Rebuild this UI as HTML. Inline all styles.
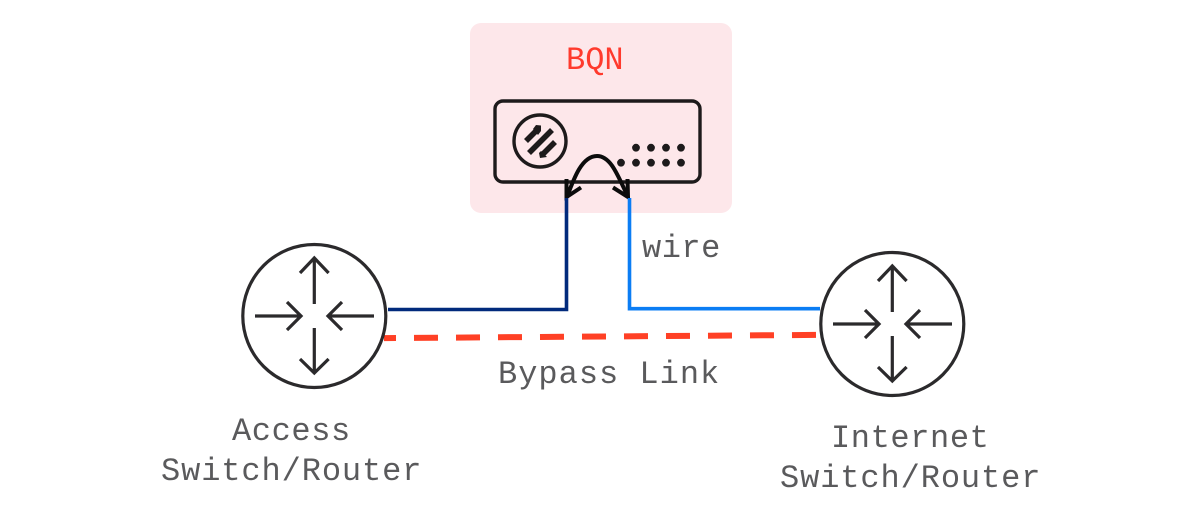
<!DOCTYPE html>
<html>
<head>
<meta charset="utf-8">
<style>
html,body{margin:0;padding:0;background:#fff;width:1200px;height:515px;overflow:hidden}
svg{display:block}
text{font-family:"Liberation Mono",monospace;font-size:32px;fill:#5a5a5c}
</style>
</head>
<body>
<svg width="1200" height="515" viewBox="0 0 1200 515" xmlns="http://www.w3.org/2000/svg">
<rect width="1200" height="515" fill="#fff"/>
<rect x="470" y="23" width="262" height="190" rx="11" fill="#fde7ea"/>
<text x="566" y="69" style="fill:#ff3a2d">BQN</text>

<rect x="495" y="101" width="205" height="81" rx="8" fill="none" stroke="#1d1a1b" stroke-width="3.4"/>
<circle cx="540" cy="141" r="26" fill="none" stroke="#1d1a1b" stroke-width="3.4"/>
<g stroke="#1d1a1b" stroke-width="5.600" fill="none">
<line x1="526" y1="141" x2="537" y2="130"/>
<line x1="529" y1="153" x2="552" y2="130"/>
<line x1="543" y1="154" x2="555" y2="142"/>
</g>
<g fill="#1d1a1b">
<polygon points="533,129 536,125 541,125.500 541,131 538,135"/>
<polygon points="541,151 547,157 540,158 539,153"/>
</g>
<g fill="#1d1a1b">
<circle cx="636" cy="147.700" r="3.900"/><circle cx="651" cy="147.700" r="3.900"/><circle cx="666" cy="147.700" r="3.900"/><circle cx="681" cy="147.700" r="3.900"/>
<circle cx="621" cy="162.700" r="3.900"/><circle cx="636" cy="162.700" r="3.900"/><circle cx="651" cy="162.700" r="3.900"/><circle cx="666" cy="162.700" r="3.900"/><circle cx="681" cy="162.700" r="3.900"/>
</g>

<path d="M567 197 C574 178 582 156 597 156 C611 156 618 176 628 197" fill="none" stroke="#0c0c0c" stroke-width="4"/>
<path d="M566.500 179 L566.500 197 L581 187.500" fill="none" stroke="#0c0c0c" stroke-width="4"/>
<path d="M613 187.500 L628 197 L627.500 179" fill="none" stroke="#0c0c0c" stroke-width="4"/>

<path d="M566.500 198 V309.500 H388" fill="none" stroke="#012a7c" stroke-width="3.600"/>
<path d="M629.500 198 V308.700 H820" fill="none" stroke="#0b7df4" stroke-width="3.600"/>

<line x1="384" y1="338.100" x2="816" y2="334.900" stroke="#ff4025" stroke-width="6" stroke-dasharray="24 18" stroke-dashoffset="12"/>

<g fill="none" stroke="#2b2a2c">
<circle cx="314.300" cy="316" r="71.500" stroke-width="3.200"/>
<g stroke-width="3.200">
<path d="M314.300 304 V258 M300 273 L314.300 258 L328.600 273"/>
<path d="M314.300 328 V373 M300 359 L314.300 373 L328.600 359"/>
<path d="M255 316 H301 M287 302 L301 316 L287 330"/>
<path d="M374 316 H328 M342 302 L328 316 L342 330"/>
</g>
<circle cx="892.300" cy="324" r="71.500" stroke-width="3.200"/>
<g stroke-width="3.200">
<path d="M892.300 312 V266 M878 281 L892.300 266 L906.600 281"/>
<path d="M892.300 336 V381 M878 367 L892.300 381 L906.600 367"/>
<path d="M833 324 H879 M865 310 L879 324 L865 338"/>
<path d="M952 324 H906 M920 310 L906 324 L920 338"/>
</g>
</g>

<text x="642" y="257" letter-spacing=".5">wire</text>
<text x="498" y="383" letter-spacing="1">Bypass Link</text>
<text x="232" y="440" letter-spacing=".6">Access</text>
<text x="161" y="480" letter-spacing=".9">Switch/Router</text>
<text x="831" y="447" letter-spacing=".6">Internet</text>
<text x="780" y="487" letter-spacing=".9">Switch/Router</text>
</svg>
</body>
</html>
